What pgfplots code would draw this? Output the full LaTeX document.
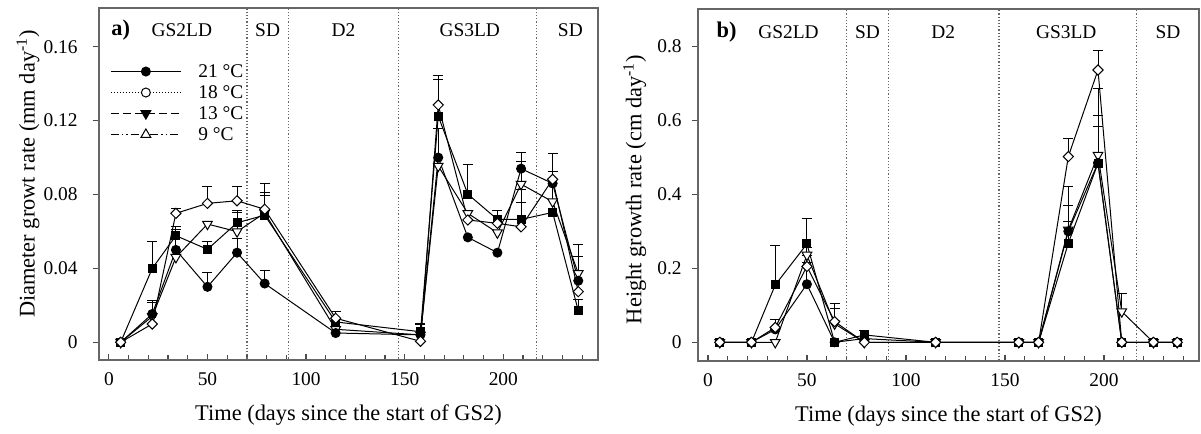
\documentclass[border=0pt]{standalone}
\usepackage{fontspec}
\setmainfont{Liberation Serif}
\usepackage{pgfplots}
\pgfplotsset{compat=1.18}

\newcommand{\fs}{\fontsize{9.7}{11.6}\selectfont}
\newcommand{\fl}{\fontsize{11.2}{13.4}\selectfont}

\pgfplotsset{
  base/.style={
    scale only axis, height=176pt, xmin=-5, xmax=248,
    axis line style={draw=black!60, line width=0.8pt},
    xtick={0,50,100,150,200}, xticklabels={0,50,100,150,200},
    minor xtick={10,20,30,40,60,70,80,90,110,120,130,140,160,170,180,190,210,220,230,240},
    xtick pos=bottom, ytick pos=left,
    xtick align=inside, ytick align=outside,
    major tick length=3pt, minor tick length=2.5pt,
    tick style={black!70, line width=0.6pt},
    /pgf/number format/assume math mode=true,
    tick label style={font=\fs},
    label style={font=\fl},
    xticklabel style={yshift=-3pt},
    xlabel={Time (days since the start of GS2)},
    clip=true,
  },
  eb/.style={forget plot, black, line width=0.5pt, only marks, mark=*, mark size=0.01pt,
    error bars/.cd, y dir=plus, y explicit, error mark=-,
    error bar style={solid, black, line width=0.5pt},
    error mark options={rotate=90, black, solid, mark size=2.5pt, line width=0.5pt}},
  scirc/.style={black, line width=0.5pt, mark=*, mark size=2.25pt, mark options={solid, fill=black}},
  ssq/.style={black, line width=0.5pt, mark=square*, mark size=2pt, mark options={solid, fill=black}},
  sdia/.style={black, line width=0.5pt, mark=square*, mark size=1.8pt, mark options={solid, fill=white, rotate=45}},
  stri/.style={black, line width=0.5pt, mark=triangle*, mark size=2.8pt, mark options={solid, fill=white, rotate=180}},
  vline/.style={forget plot, black!60, densely dotted, line width=0.6pt},
}

\begin{document}
\begin{tikzpicture}[font=\fs]
\useasboundingbox (0,0) rectangle (600.5pt,217pt);

% ---------------- panel a ----------------
\begin{axis}[base, at={(49.5pt,37pt)}, anchor=south west, width=249.5pt,
  ymin=-0.0096, ymax=0.181,
  ytick={0,0.04,0.08,0.12,0.16},
  yticklabels={0,0.04,0.08,0.12,0.16},
  yticklabel style={anchor=east, inner sep=0pt, xshift=-7.5pt},
  ylabel={Diameter growt rate (mm day\textsuperscript{-1})},
  ylabel style={at={(axis description cs:-0.1423,0.528)}, anchor=center},
  xlabel style={at={(axis description cs:0.5,-0.156)}, anchor=center},
  legend style={at={(axis description cs:0.022,0.849)}, anchor=north west,
    draw=none, fill=none, inner sep=0pt, row sep=0.5pt, font=\fs,
    nodes={inner ysep=0.5pt, inner xsep=0pt, text height=7.3pt, text depth=1.7pt},
    cells={anchor=west}},
  legend image code/.code={\draw[mark repeat=2, mark phase=2, #1] plot coordinates {(0pt,0pt) (17.5pt,0pt) (35pt,0pt)}; \path (43.5pt,0pt);},
]
\addplot[vline] coordinates {(70,-1) (70,1)};
\addplot[vline] coordinates {(91,-1) (91,1)};
\addplot[vline] coordinates {(147,-1) (147,1)};
\addplot[vline] coordinates {(217,-1) (217,1)};

\addlegendimage{black, line width=0.5pt, mark=*, mark size=2.25pt, mark options={solid, fill=black}}
\addlegendentry{21 °C}
\addlegendimage{black, line width=0.5pt, densely dotted, mark=*, mark size=2.25pt, mark options={solid, fill=white}}
\addlegendentry{18 °C}
\addlegendimage{black, line width=0.5pt, dash pattern=on 4pt off 2pt, mark=triangle*, mark size=2.8pt, mark options={solid, fill=black, rotate=180}}
\addlegendentry{13 °C}
\addlegendimage{black, line width=0.5pt, dash pattern=on 4pt off 1.5pt on 0.7pt off 1.5pt on 0.7pt off 1.5pt, mark=triangle*, mark size=2.8pt, mark options={solid, fill=white}}
\addlegendentry{9 °C}

% error bars
\addplot[eb] coordinates {(22,0.0153) +- (0,0.0072) (34,0.050) +- (0,0.011) (50,0.030) +- (0,0.0077) (65,0.0485) +- (0,0.0078) (79,0.0318) +- (0,0.0072) (167,0.100) +- (0,0.016) (209,0.094) +- (0,0.0086) (238,0.0333) +- (0,0.013)};
\addplot[eb] coordinates {(22,0.040) +- (0,0.0144) (34,0.0577) +- (0,0.0048) (50,0.0503) +- (0,0.0041) (65,0.0647) +- (0,0.0069) (79,0.0688) +- (0,0.0121) (158,0.0057) +- (0,0.0046) (167,0.1224) +- (0,0.0199) (182,0.0802) +- (0,0.0163) (197,0.0665) +- (0,0.0051) (209,0.0665) +- (0,0.009) (238,0.0171) +- (0,0.0058)};
\addplot[eb] coordinates {(34,0.0698) +- (0,0.0025) (50,0.0752) +- (0,0.0094) (65,0.0766) +- (0,0.0076) (79,0.072) +- (0,0.0137) (115,0.013) +- (0,0.0036) (167,0.1285) +- (0,0.0157) (209,0.0625) +- (0,0.02) (225,0.0882) +- (0,0.014)};
\addplot[eb] coordinates {(22,0.014) +- (0,0.0074) (65,0.0599) +- (0,0.0102) (79,0.070) +- (0,0.0093) (158,0.004) +- (0,0.0055) (209,0.0856) +- (0,0.0121) (225,0.0761) +- (0,0.0162) (238,0.0373) +- (0,0.0157)};

% series
\addplot[stri, forget plot] coordinates {(6,0) (22,0.014) (34,0.046) (50,0.064) (65,0.0599) (79,0.070) (115,0.007) (158,0.004) (167,0.0954) (182,0.0698) (197,0.0593) (209,0.0856) (225,0.0761) (238,0.0373)};
\addplot[scirc, forget plot] coordinates {(6,0) (22,0.0153) (34,0.050) (50,0.030) (65,0.0485) (79,0.0318) (115,0.005) (158,0.004) (167,0.100) (182,0.0568) (197,0.0485) (209,0.094) (225,0.086) (238,0.0333)};
\addplot[ssq, forget plot] coordinates {(6,0) (22,0.040) (34,0.0577) (50,0.0503) (65,0.0647) (79,0.0688) (115,0.011) (158,0.0057) (167,0.1224) (182,0.0802) (197,0.0665) (209,0.0665) (225,0.0703) (238,0.0171)};
\addplot[sdia, forget plot] coordinates {(6,0) (22,0.0099) (34,0.0698) (50,0.0752) (65,0.0766) (79,0.072) (115,0.013) (158,0.0005) (167,0.1285) (182,0.0662) (197,0.0644) (209,0.0625) (225,0.0882) (238,0.0274)};

\node[font=\fl\bfseries] at (axis cs:6,0.169) {a)};
\node at (axis cs:37,0.169) {GS2LD};
\node at (axis cs:80.5,0.169) {SD};
\node at (axis cs:119,0.169) {D2};
\node at (axis cs:183,0.169) {GS3LD};
\node at (axis cs:234,0.169) {SD};
\end{axis}

% ---------------- panel b ----------------
\begin{axis}[base, at={(349pt,36.5pt)}, anchor=south west, width=250.5pt,
  ymin=-0.0505, ymax=0.901,
  ytick={0,0.2,0.4,0.6,0.8},
  yticklabels={0,0.2,0.4,0.6,0.8},
  yticklabel style={anchor=east, inner sep=0pt, xshift=-5pt},
  ylabel={Height growth rate (cm day\textsuperscript{-1})},
  ylabel style={at={(axis description cs:-0.1263,0.487)}, anchor=center},
  xlabel style={at={(axis description cs:0.5,-0.156)}, anchor=center},
]
\addplot[vline] coordinates {(70,-1) (70,2)};
\addplot[vline] coordinates {(91,-1) (91,2)};
\addplot[vline] coordinates {(147,-1) (147,2)};
\addplot[vline] coordinates {(216.5,-1) (216.5,2)};

\addplot[eb] coordinates {(50,0.157) +- (0,0.06) (182,0.30) +- (0,0.071) (197,0.485) +- (0,0.127)};
\addplot[eb] coordinates {(34,0.155) +- (0,0.108) (50,0.266) +- (0,0.069) (79,0.02) +- (0,0.013) (182,0.268) +- (0,0.058) (197,0.484) +- (0,0.099)};
\addplot[eb] coordinates {(34,0.040) +- (0,0.022) (50,0.205) +- (0,0.03) (64,0.056) +- (0,0.049) (182,0.502) +- (0,0.049) (197,0.736) +- (0,0.052)};
\addplot[eb] coordinates {(50,0.236) +- (0,0.02) (64,0.05) +- (0,0.042) (182,0.304) +- (0,0.118) (197,0.506) +- (0,0.18) (209,0.083) +- (0,0.049)};

\addplot[stri] coordinates {(6,0) (22,0) (34,0) (50,0.236) (64,0.05) (79,0) (115,0) (157,0) (167,0) (182,0.304) (197,0.506) (209,0.083) (225,0) (237,0)};
\addplot[scirc] coordinates {(6,0) (22,0) (34,0.035) (50,0.157) (64,0) (79,0.01) (115,0) (157,0) (167,0) (182,0.30) (197,0.485) (209,0) (225,0) (237,0)};
\addplot[ssq] coordinates {(6,0) (22,0) (34,0.155) (50,0.266) (64,0) (79,0.02) (115,0) (157,0) (167,0) (182,0.268) (197,0.484) (209,0) (225,0) (237,0)};
\addplot[sdia] coordinates {(6,0) (22,0) (34,0.040) (50,0.205) (64,0.056) (79,0) (115,0) (157,0) (167,0) (182,0.502) (197,0.736) (209,0) (225,0) (237,0)};

\node[font=\fl\bfseries] at (axis cs:9.4,0.839) {b)};
\node at (axis cs:40.7,0.839) {GS2LD};
\node at (axis cs:80.6,0.839) {SD};
\node at (axis cs:118.8,0.839) {D2};
\node at (axis cs:181,0.839) {GS3LD};
\node at (axis cs:232.4,0.839) {SD};
\end{axis}
\end{tikzpicture}
\end{document}
